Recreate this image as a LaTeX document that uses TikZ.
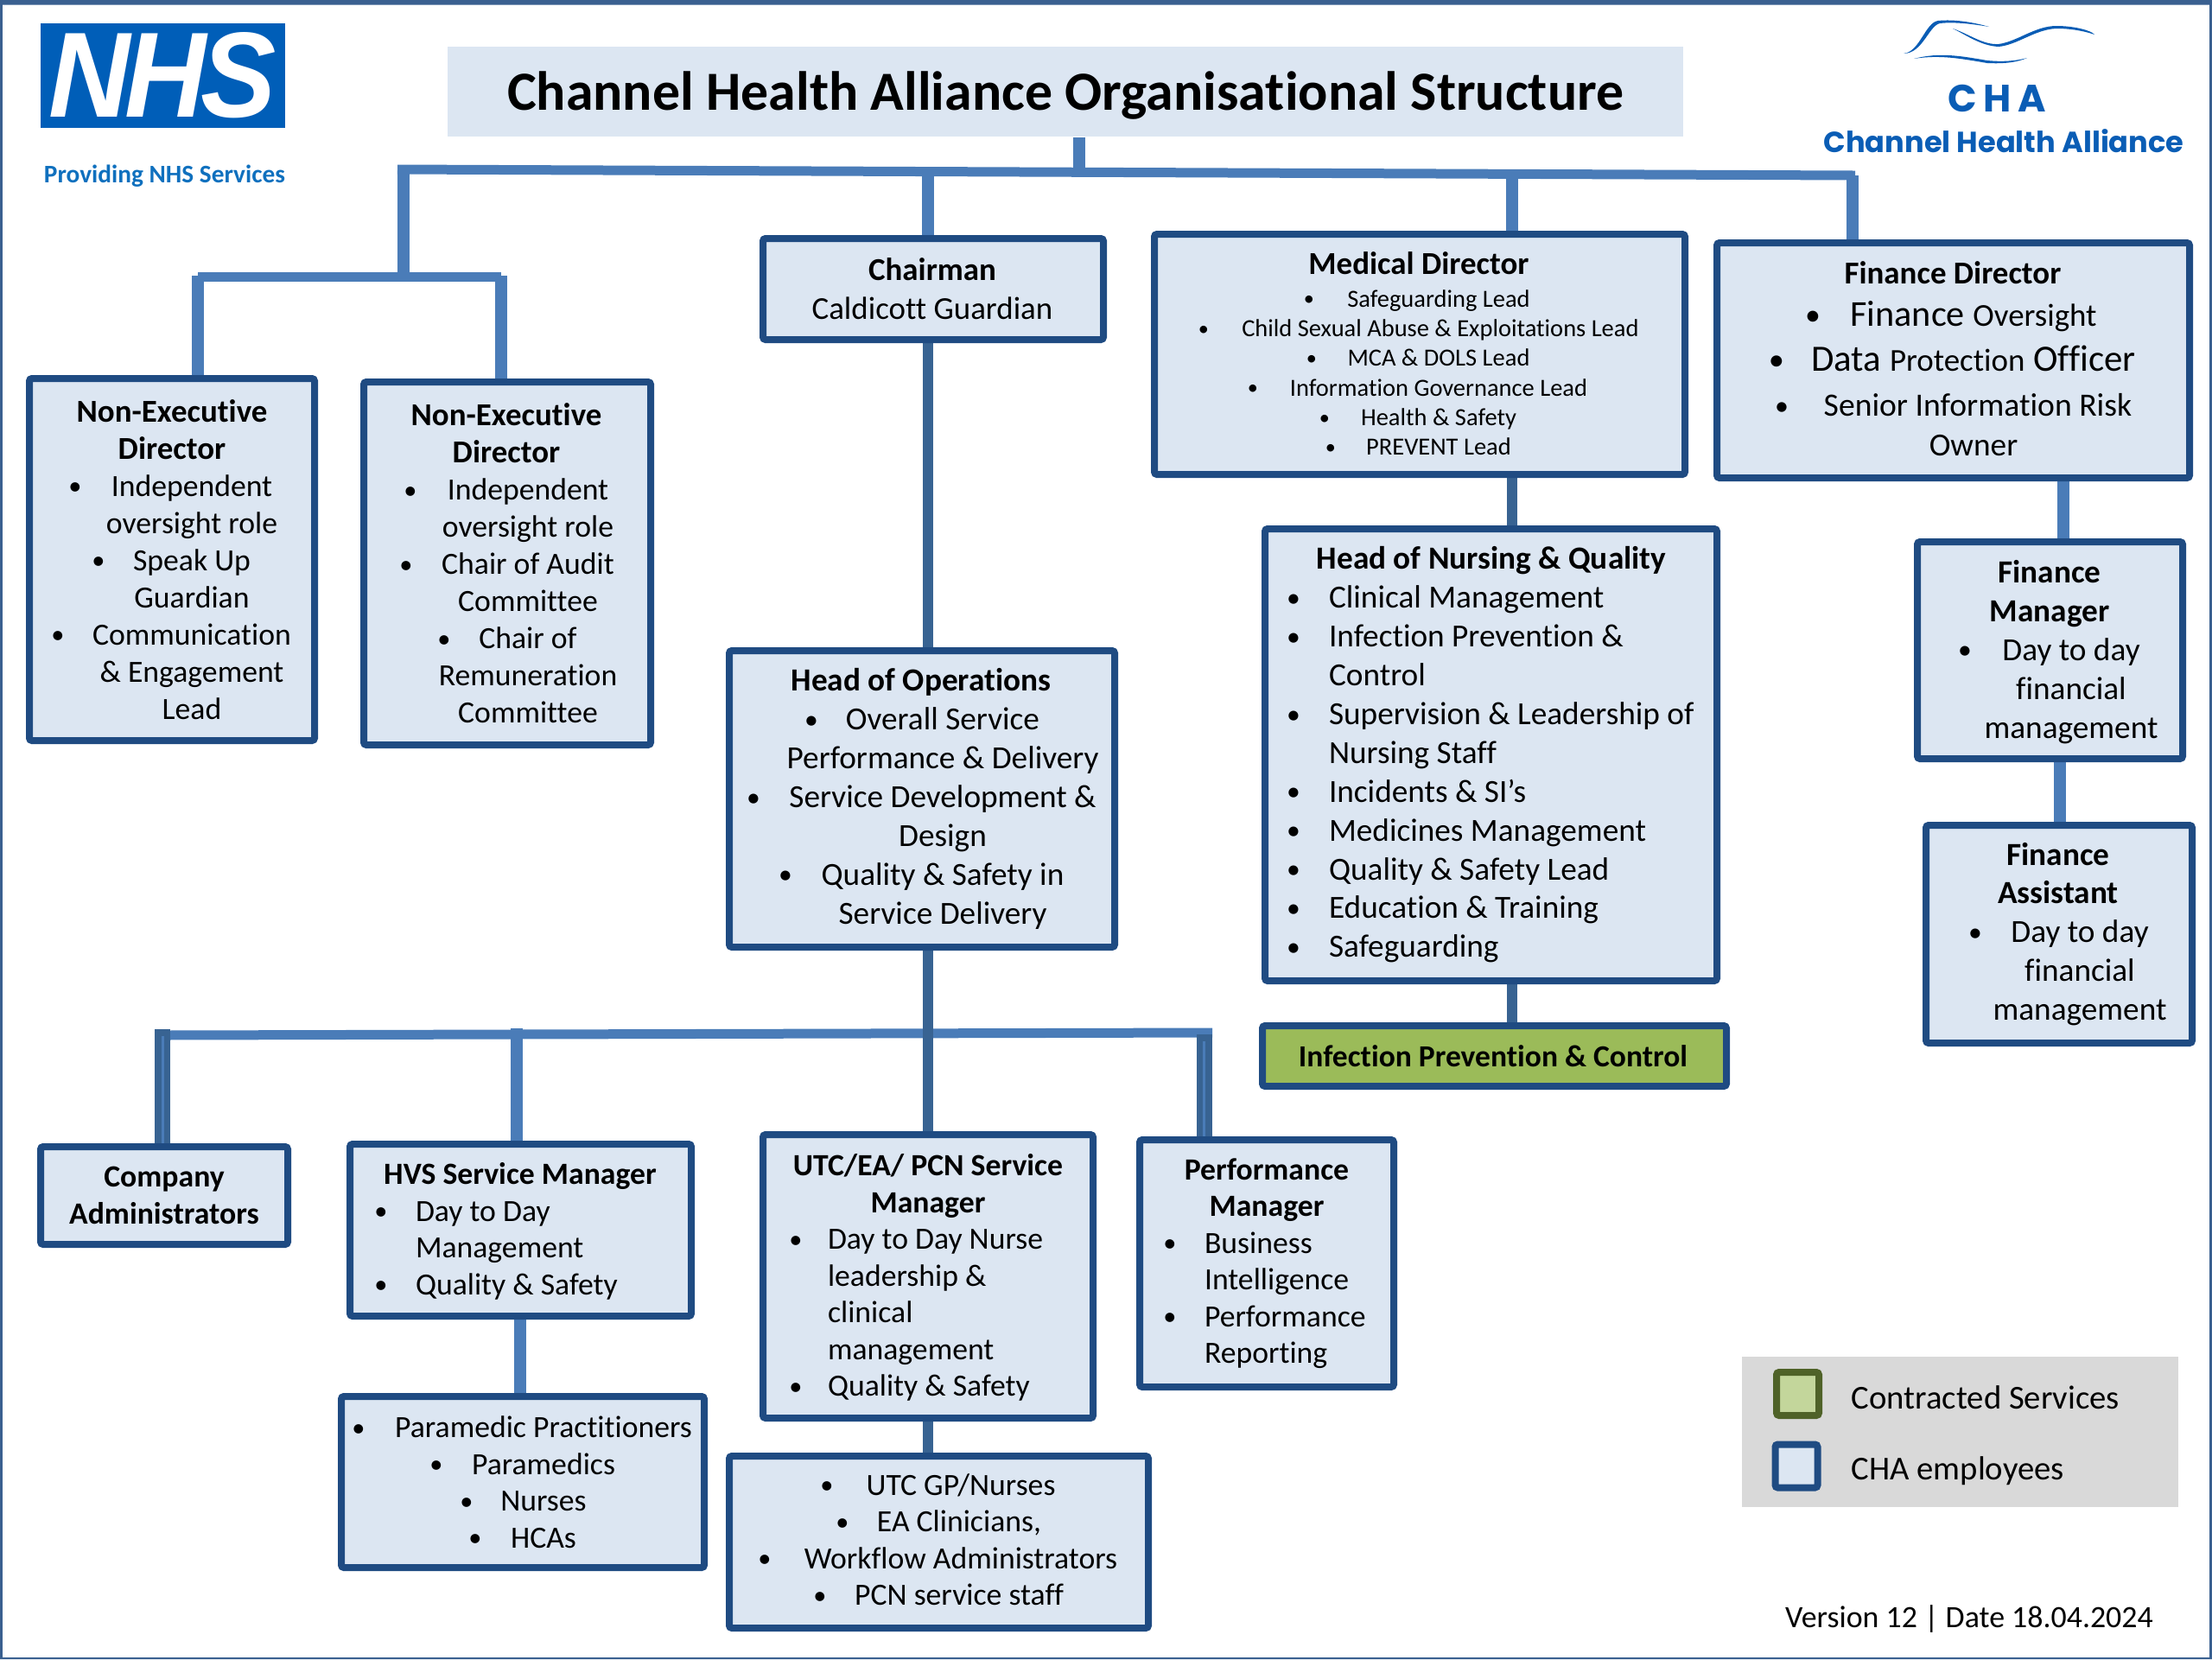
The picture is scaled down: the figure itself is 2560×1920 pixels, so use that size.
\documentclass[tikz,border=0pt]{standalone}
\usepackage{fontspec}
\usepackage{graphicx}
\usetikzlibrary{backgrounds}
\setmainfont{Carlito}[Ligatures=NoCommon]
\newfontfamily\pop{Poppins}
\newfontfamily\lib{Liberation Sans}
\definecolor{boxfill}{HTML}{DCE6F2}
\definecolor{boxline}{HTML}{1F4B82}
\definecolor{ltline}{HTML}{4A7CB8}
\definecolor{dkline}{HTML}{386392}
\definecolor{frameblue}{HTML}{3A6090}
\definecolor{nhsblue}{HTML}{005EB8}
\definecolor{provblue}{HTML}{0F70BE}
\definecolor{chablue}{HTML}{0A5DB5}
\definecolor{greenfill}{HTML}{9BBB59}
\definecolor{legendgrey}{HTML}{D9D9D9}
\definecolor{legendgreenline}{HTML}{4F6228}
\definecolor{legendgreenfill}{HTML}{C3D69B}
\newlength\px \setlength\px{0.01cm}
\def\BL{0}
\newcommand\fs[2]{\fontsize{#1pt}{#2\px}\selectfont}
\newcommand\bul{\makebox[0pt]{\raisebox{.04em}{\scalebox{.85}{\textbullet}}}}
\newcommand\Cl[2]{\makebox[\linewidth][l]{\hspace*{\dimexpr #1\px-\BL\px\relax}\makebox[0pt]{#2}}}
\newcommand\Bc[3]{\makebox[\linewidth][l]{\hspace*{\dimexpr #1\px-\BL\px\relax}\bul\hspace*{\dimexpr #2\px-#1\px\relax}\makebox[0pt]{#3}}}
\newcommand\Lf[2]{\makebox[\linewidth][l]{\hspace*{\dimexpr #1\px-\BL\px\relax}#2}}
\newcommand\Bl[3]{\makebox[\linewidth][l]{\hspace*{\dimexpr #1\px-\BL\px\relax}\bul\hspace*{\dimexpr #2\px-#1\px\relax}#3}}
\tikzset{
  orgbox/.style={draw=boxline,fill=boxfill,line width=8\px,rounded corners=3\px,inner sep=0pt,align=center,text=black},
  legkey/.style={line width=8\px,rounded corners=3\px,inner sep=0pt,minimum width=49\px,minimum height=50\px},
  ltbus/.style={draw=ltline,line width=11\px},
  ltconn/.style={draw=ltline,line width=14\px},
  dkconn/.style={draw=dkline,line width=12\px},
  dkwide/.style={draw=dkline,line width=18\px},
  stripe/.style={draw=ltline,line width=3\px},
  plain/.style={inner sep=0pt,text=black}
}
\newcommand\orgbox[7][]{%
  \pgfmathsetmacro\cxx{(#3+#5)/2}\pgfmathsetmacro\cyy{(#4+#6)/2}%
  \pgfmathsetmacro\ww{#5-#3}\pgfmathsetmacro\hh{#6-#4}%
  \def\BL{#3}%
  \node[orgbox,#1,minimum width=\ww\px,minimum height=\hh\px,text width=\ww\px] (#2) at (\cxx,\cyy) {\spaceskip=0pt\xspaceskip=0pt #7\par};}
\begin{document}
\begin{tikzpicture}[x=0.01cm,y=-0.01cm]
\useasboundingbox (0,0) rectangle (2560,1920);
% frame
\fill[frameblue,even odd rule] (0,0) rectangle (2560,1920) (3,5.5) rectangle (2557,1918);
% title
\node[fill=boxfill,minimum width=1430\px,minimum height=104\px,inner sep=0pt,text height=16pt,text depth=4pt] (title) at (1233,106)
  {\fs{18.15}{60}\bfseries Channel Health Alliance Organisational Structure};
% NHS logo
\node[fill=nhsblue,minimum width=283\px,minimum height=121\px,inner sep=0pt,text=white] (nhs) at (188.5,87.5)
  {\resizebox{263\px}{98\px}{\lib\bfseries\itshape N\kern-.05em H\kern-.05em S}};
\node[plain,text=provblue] (prov) at (190.5,204) {\resizebox{279\px}{!}{\bfseries Providing NHS Services}};
% CHA logo
\fill[chablue] (2203,62) .. controls (2222,60) and (2228,26) .. (2243,24) .. controls (2262,22) and (2285,26) .. (2302,31)
  .. controls (2285,28) and (2262,25) .. (2245,27) .. controls (2232,30) and (2225,62) .. (2203,62) -- cycle;
\fill[chablue] (2260,33) .. controls (2280,40) and (2295,52) .. (2313,51) .. controls (2335,48) and (2355,30) .. (2380,30)
  .. controls (2400,30) and (2420,35) .. (2424,40) .. controls (2415,37) and (2400,33) .. (2380,33)
  .. controls (2355,34) and (2335,52) .. (2313,54) .. controls (2293,53) and (2278,42) .. (2260,33) -- cycle;
\fill[chablue] (2215,68) .. controls (2245,60) and (2270,65) .. (2300,70) .. controls (2320,72) and (2335,70) .. (2346,67)
  .. controls (2335,72) and (2320,74) .. (2300,73) .. controls (2270,68) and (2245,63) .. (2215,68) -- cycle;
\node[plain,text=chablue] (cha) at (2311,114) {\resizebox{113\px}{!}{\pop\bfseries C\,H\,A}};
\node[plain,text=chablue] (chaname) at (2319,163) {\resizebox{417\px}{!}{\pop\bfseries Channel Health Alliance}};
% boxes
\orgbox{ned1}{34}{438}{364}{857}{\fs{10.5}{43}%
 \Cl{199}{\bfseries Non-Executive}\\\Cl{199}{\bfseries Director}\\
 \fs{10.15}{43}\Bc{87}{222}{Independent}\\\Cl{222}{oversight role}\\
 \Bc{114}{222}{Speak Up}\\\Cl{222}{Guardian}\\
 \Bc{67}{222}{Communication}\\\Cl{222}{\& Engagement}\\\Cl{222}{Lead}}
\orgbox{ned2}{421}{442}{753}{862}{\fs{10.5}{43}%
 \Cl{586}{\bfseries Non-Executive}\\\Cl{586}{\bfseries Director}\\
 \fs{10.15}{43}\Bc{475}{611}{Independent}\\\Cl{611}{oversight role}\\
 \Bc{470}{611}{Chair of Audit}\\\Cl{611}{Committee}\\
 \Bc{514}{611}{Chair of}\\\Cl{611}{Remuneration}\\\Cl{611}{Committee}}
\orgbox{chair}{883}{276}{1277}{393}{\fs{10.5}{45}%
 \Cl{1079}{\bfseries Chairman}\\\Cl{1079}{Caldicott Guardian}}
\orgbox{med}{1336}{271}{1950}{549}{\fs{10.5}{45}%
 \Cl{1642}{\bfseries Medical Director}\\
 \fs{8.1}{38}\Bc{1515}{1665}{Safeguarding Lead}\\
 \fs{8.1}{34.3}\Bc{1393}{1667}{Child Sexual Abuse \& Exploitations Lead}\\
 \Bc{1518}{1665}{MCA \& DOLS Lead}\\
 \Bc{1450}{1665}{Information Governance Lead}\\
 \Bc{1533}{1665}{Health \& Safety}\\
 \Bc{1540}{1665}{PREVENT Lead}\par\vspace{2\px}}
\orgbox{fin}{1987}{281}{2534}{553}{\fs{10.5}{49}%
 \Cl{2260}{\bfseries Finance Director}\\
 \fs{12}{49}\Bc{2098}{2284}{Finance {\fontsize{10.5pt}{12pt}\selectfont Oversight}}\\
 \fs{12.2}{52}\Bc{2056}{2284}{Data {\fontsize{10.5pt}{12pt}\selectfont Protection} Officer}\\
 \fs{10.7}{52}\Bc{2062}{2289}{Senior Information Risk}\\
 \fs{10.6}{46}\Cl{2284}{Owner}\par\vspace{3\px}}
\orgbox{nurse}{1464}{612}{1987}{1135}{\fs{10.6}{44.9}%
 \Cl{1726}{\bfseries Head of Nursing \& Quality}\\
 \Bl{1497}{1538}{Clinical Management}\\
 \Bl{1497}{1538}{Infection Prevention \&}\\\Lf{1538}{Control}\\
 \Bl{1497}{1538}{Supervision \& Leadership of}\\\Lf{1538}{Nursing Staff}\\
 \Bl{1497}{1538}{Incidents \& SI’s}\\
 \Bl{1497}{1538}{Medicines Management}\\
 \Bl{1497}{1538}{Quality \& Safety Lead}\\
 \Bl{1497}{1538}{Education \& Training}\\
 \Bl{1497}{1538}{Safeguarding}}
\orgbox[fill=greenfill]{ipc}{1461}{1187}{1998}{1257}{\fs{10.1}{45}%
 \Cl{1728}{\bfseries Infection Prevention \& Control}}
\orgbox{hops}{844}{753}{1290}{1096}{\fs{10.6}{44.9}%
 \Cl{1066}{\bfseries Head of Operations}\\
 \Bc{939}{1091}{Overall Service}\\\Cl{1091}{Performance \& Delivery}\\
 \Bc{872}{1091}{Service Development \&}\\\Cl{1091}{Design}\\
 \Bc{909}{1091}{Quality \& Safety in}\\\Cl{1091}{Service Delivery}}
\orgbox{fmgr}{2219}{627}{2526}{878}{\fs{10.6}{44.9}%
 \Cl{2372}{\bfseries Finance}\\\Cl{2372}{\bfseries Manager}\\
 \Bc{2274}{2397}{Day to day}\\\Cl{2397}{financial}\\\Cl{2397}{management}\par\vspace{-4\px}}
\orgbox{fasst}{2229}{955}{2537}{1207}{\fs{10.6}{44.9}%
 \Cl{2382}{\bfseries Finance}\\\Cl{2382}{\bfseries Assistant}\\
 \Bc{2286}{2407}{Day to day}\\\Cl{2407}{financial}\\\Cl{2407}{management}}
\orgbox{coad}{47}{1327}{333}{1440}{\fs{10.15}{42.5}%
 \Cl{190}{\bfseries Company}\\\Cl{190}{\bfseries Administrators}}
\orgbox{hvs}{405}{1324}{800}{1523}{\fs{10.15}{42.5}%
 \Cl{602}{\bfseries HVS Service Manager}\\
 \Bl{441}{481}{Day to Day}\\\Lf{481}{Management}\\
 \Bl{441}{481}{Quality \& Safety}\par\vspace{-3\px}}
\orgbox{utc}{883}{1313}{1265}{1641}{\fs{10.15}{42.5}%
 \Cl{1074}{\bfseries UTC/EA/ PCN Service}\\\Cl{1074}{\bfseries Manager}\\
 \Bl{921}{958}{Day to Day Nurse}\\\Lf{958}{leadership \&}\\\Lf{958}{clinical}\\\Lf{958}{management}\\
 \Bl{921}{958}{Quality \& Safety}\par\vspace{-3\px}}
\orgbox{perf}{1319}{1319}{1613}{1605}{\fs{10.15}{42.5}%
 \Cl{1466}{\bfseries Performance}\\\Cl{1466}{\bfseries Manager}\\
 \Bl{1354}{1394}{Business}\\\Lf{1394}{Intelligence}\\
 \Bl{1354}{1394}{Performance}\\\Lf{1394}{Reporting}}
\orgbox{para}{395}{1616}{815}{1814}{\fs{10.15}{42.5}%
 \Bc{415}{629}{Paramedic Practitioners}\\
 \Bc{505}{629}{Paramedics}\\
 \Bc{540}{629}{Nurses}\\
 \Bc{550}{629}{HCAs}}
\orgbox{gp}{844}{1685}{1329}{1884}{\fs{10.15}{42.5}%
 \Bc{957}{1112}{UTC GP/Nurses}\\
 \Bc{975}{1110}{EA Clinicians,}\\
 \Bc{885}{1112}{Workflow Administrators}\\
 \Bc{949}{1110}{PCN service staff}\par\vspace{6\px}}
% bus points
\coordinate (topstub) at (1249,198);
\coordinate (busL) at (460,196);
\coordinate (busR) at (2147,203);
\coordinate (vL) at (467,191);
\coordinate (nedhub) at (467,320);
\coordinate (dropL) at (229,319);
\coordinate (dropR) at (580,319);
\coordinate (tchair) at (1074,198);
\coordinate (tmed) at (1750,201);
\coordinate (tfin) at (2144,203);
\coordinate (lowL) at (188,1198);
\coordinate (lowR) at (1403,1195);
\coordinate (lcomp) at (188,1191);
\coordinate (lhvs) at (598,1190);
\coordinate (lperf) at (1393.5,1197);
\coordinate (xfin) at (2388,553);
\coordinate (xfm) at (2384,878);
\coordinate (xhvs) at (602,1523);
% connectors
\begin{scope}[on background layer]
\draw[ltconn] (title.south -| topstub) -- (topstub);
\draw[ltbus] (busL) -- (busR);
\draw[ltconn] (vL) -- (nedhub);
\draw[ltbus] (dropL) ++(0,1) -- ([yshift=-1\px]dropR);
\draw[ltconn] (dropL) -- (dropL |- ned1.north);
\draw[ltconn] (dropR) -- (dropR |- ned2.north);
\draw[ltconn] (tchair) -- (tchair |- chair.north);
\draw[ltconn] (tmed) -- (tmed |- med.north);
\draw[ltconn] (tfin) -- (tfin |- fin.north);
\draw[dkconn] (tchair |- chair.south) -- (tchair |- hops.north);
\draw[dkconn] (tmed |- med.south) -- (tmed |- nurse.north);
\draw[dkconn] (tmed |- nurse.south) -- (tmed |- ipc.north);
\draw[ltconn] (xfin |- fin.south) -- (xfin |- fmgr.north);
\draw[ltconn] (xfm |- fmgr.south) -- (xfm |- fasst.north);
\draw[ltbus] (lowL) -- (lowR);
\draw[dkconn] (tchair |- hops.south) -- (tchair |- utc.north);
\draw[dkwide] (lcomp) -- (lcomp |- coad.north);
\draw[stripe] ([yshift=-8\px]lcomp) -- (lcomp |- coad.north);
\draw[ltconn] (lhvs) -- (lhvs |- hvs.north);
\draw[dkwide] (lperf) -- (lperf |- perf.north);
\draw[stripe] ([yshift=-8\px]lperf) -- (lperf |- perf.north);
\draw[ltconn] (xhvs |- hvs.south) -- (xhvs |- para.north);
\draw[dkconn] (tchair |- utc.south) -- (tchair |- gp.north);
\end{scope}
% legend
\node[fill=legendgrey,minimum width=505\px,minimum height=174\px,inner sep=0pt] (legend) at (2268.5,1657) {};
\node[legkey,draw=legendgreenline,fill=legendgreenfill] (kgreen) at (2080.5,1613) {};
\node[legkey,draw=boxline,fill=boxfill] (kblue) at (2079,1696.5) {};
\node[plain,anchor=west] (kgreent) at (2142,1617) {\fs{11}{45}Contracted Services};
\node[plain,anchor=west] (kbluet) at (2142,1702) {\fs{11}{45}CHA employees};
\node[plain] (ver) at (2279,1873) {\fs{10.2}{42}Version 12 | Date 18.04.2024};
\end{tikzpicture}
\end{document}
